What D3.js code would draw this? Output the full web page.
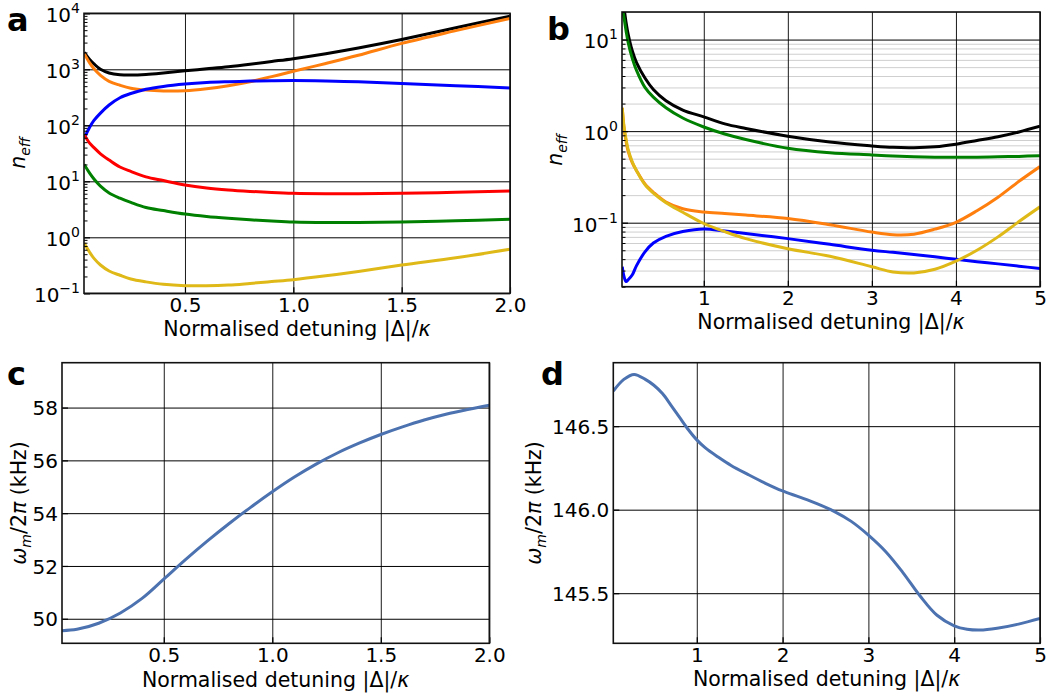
<!DOCTYPE html>
<html>
<head>
<meta charset="utf-8">
<script src="https://cdn.jsdelivr.net/npm/d3@7"></script>
<style>
  body { margin: 0; background: #fff; }
  svg { display: block; }
  text { font-family: "DejaVu Sans", sans-serif; fill: #000; }
</style>
</head>
<body>
<svg id="fig" width="1059" height="697"></svg>
<script>
// ---- panel a: effective occupation vs detuning (0..2) ----
const detA = [0.035, 0.06, 0.08, 0.11, 0.15, 0.2, 0.25, 0.32, 0.4, 0.5, 0.6, 0.7, 0.8, 0.9, 1.0, 1.15, 1.3, 1.5, 1.75, 2.0];
const aBlack  = [2000, 1500, 1250, 1000, 860, 800, 790, 810, 860, 940, 1020, 1110, 1230, 1380, 1550, 1900, 2400, 3400, 5500, 8900];
const aOrange = [1900, 1300, 1020, 780, 610, 520, 460, 425, 410, 415, 450, 510, 600, 740, 920, 1270, 1780, 2900, 4900, 8100];
const aBlue   = [58, 92, 122, 165, 230, 310, 370, 440, 495, 545, 580, 600, 615, 625, 630, 620, 600, 555, 510, 465];
const aRed    = [68, 48, 40, 31, 24, 18, 15, 12, 10.3, 8.6, 7.6, 7.0, 6.6, 6.3, 6.1, 6.0, 6.0, 6.1, 6.35, 6.7];
const aGreen  = [20, 14, 11, 8.2, 6.2, 5.0, 4.2, 3.4, 3.0, 2.6, 2.35, 2.18, 2.05, 1.95, 1.87, 1.83, 1.84, 1.87, 1.97, 2.1];
const aGold   = [0.78, 0.54, 0.42, 0.32, 0.25, 0.21, 0.18, 0.16, 0.145, 0.137, 0.136, 0.14, 0.15, 0.162, 0.175, 0.205, 0.245, 0.32, 0.43, 0.61];

// ---- panel b: effective occupation vs detuning (0..5) ----
const detB = [0.03, 0.05, 0.075, 0.1, 0.15, 0.2, 0.3, 0.4, 0.55, 0.75, 1.0, 1.25, 1.5, 2.0, 2.5, 3.0, 3.25, 3.5, 3.75, 4.0, 4.25, 4.5, 4.75, 5.0];
const bBlack  = [26, 22, 15.5, 11.5, 7.5, 5.6, 3.8, 2.85, 2.15, 1.7, 1.43, 1.2, 1.07, 0.88, 0.76, 0.69, 0.665, 0.66, 0.675, 0.72, 0.79, 0.87, 0.98, 1.13];
const bGreen  = [22, 17.5, 12.5, 9.3, 6.2, 4.6, 3.0, 2.35, 1.8, 1.39, 1.11, 0.93, 0.81, 0.65, 0.58, 0.55, 0.535, 0.525, 0.52, 0.52, 0.52, 0.525, 0.53, 0.54];
const bOrange = [1.8, 1.1, 0.78, 0.6, 0.45, 0.37, 0.265, 0.215, 0.168, 0.142, 0.131, 0.126, 0.121, 0.111, 0.095, 0.079, 0.074, 0.075, 0.085, 0.101, 0.135, 0.19, 0.283, 0.41];
const bGold   = [1.8, 1.15, 0.82, 0.63, 0.46, 0.37, 0.26, 0.21, 0.165, 0.13, 0.098, 0.08, 0.067, 0.052, 0.043, 0.033, 0.029, 0.0283, 0.031, 0.038, 0.05, 0.07, 0.103, 0.149];
const bBlue   = [0.033, 0.026, 0.0228, 0.0238, 0.027, 0.034, 0.048, 0.06, 0.071, 0.08, 0.0855, 0.081, 0.076, 0.067, 0.058, 0.05, 0.0475, 0.045, 0.0425, 0.0398, 0.0375, 0.0355, 0.0335, 0.0316];

// ---- panel c / d: mechanical frequency (kHz) ----
const detC  = [0.031, 0.1, 0.2, 0.3, 0.4, 0.5, 0.6, 0.7, 0.8, 0.9, 1.0, 1.1, 1.2, 1.3, 1.4, 1.5, 1.6, 1.7, 1.8, 1.9, 2.0];
const cFreq = [49.55, 49.6, 49.83, 50.22, 50.77, 51.5, 52.24, 52.94, 53.6, 54.22, 54.81, 55.36, 55.85, 56.28, 56.65, 56.98, 57.27, 57.53, 57.75, 57.93, 58.09];
const detD  = [0.027, 0.15, 0.27, 0.4, 0.5, 0.6, 0.7, 0.8, 0.9, 1.0, 1.1, 1.25, 1.4, 1.6, 1.8, 2.0, 2.2, 2.4, 2.6, 2.8, 3.0, 3.2, 3.4, 3.6, 3.8, 4.0, 4.15, 4.3, 4.5, 4.75, 5.0];
const dFreq = [146.71, 146.78, 146.81, 146.78, 146.745, 146.695, 146.625, 146.552, 146.48, 146.418, 146.37, 146.315, 146.265, 146.21, 146.158, 146.112, 146.075, 146.036, 145.99, 145.93, 145.848, 145.75, 145.625, 145.485, 145.368, 145.305, 145.284, 145.279, 145.29, 145.315, 145.349];

// ---- tick values ----
const ticksA_x = [0.5, 1.0, 1.5, 2.0];
const ticksA_y = [0.1, 1, 10, 100, 1000, 10000];
const ticksB_x = [1, 2, 3, 4, 5];
const ticksB_y = [0.1, 1, 10];
const ticksC_x = [0.5, 1.0, 1.5, 2.0];
const ticksC_y = [50, 52, 54, 56, 58];
const ticksD_x = [1, 2, 3, 4, 5];
const ticksD_y = [145.5, 146.0, 146.5];

const C = {
  black: "#000000", orange: "#ff7f0e", blue: "#0000ff",
  red: "#ff0000", green: "#008000", gold: "#dfb918", steel: "#4c72b0"
};

const svg = d3.select("#fig");
svg.append("rect").attr("width", 1059).attr("height", 697).attr("fill", "#fff");
const defs = svg.append("defs");

const TICK_FS = 20, LABEL_FS = 20.5;

function minorLogTicks(lo, hi) {
  const out = [];
  for (let e = Math.floor(Math.log10(lo)); e <= Math.ceil(Math.log10(hi)); e++) {
    for (let m = 2; m <= 9; m++) {
      const v = m * Math.pow(10, e);
      if (v >= lo * 0.999 && v <= hi * 1.001) out.push(v);
    }
  }
  return out;
}

function powerLabel(textSel, v) {
  const e = Math.round(Math.log10(v));
  textSel.text(null);
  textSel.append("tspan").text("10");
  textSel.append("tspan").attr("font-size", 14).attr("dy", -9)
    .text(e < 0 ? "\u2212" + (-e) : String(e));
}

function panel(o) {
  const g = svg.append("g");
  const x = d3.scaleLinear().domain(o.xDomain).range([o.left, o.right]);
  const y = (o.log ? d3.scaleLog() : d3.scaleLinear()).domain(o.yDomain).range([o.bottom, o.top]);
  const w = o.right - o.left, h = o.bottom - o.top;

  defs.append("clipPath").attr("id", "clip-" + o.name)
    .append("rect").attr("x", o.left).attr("y", o.top).attr("width", w).attr("height", h);

  // minor horizontal grid
  if (o.minorGrid) {
    g.append("g").call(d3.axisLeft(y).tickValues(o.minor).tickSize(-w).tickFormat(""))
      .attr("transform", `translate(${o.left},0)`)
      .call(s => s.select(".domain").remove())
      .call(s => s.selectAll("line").attr("stroke", "#cfcfcf").attr("stroke-width", 1));
  }
  // major grid
  g.append("g").attr("transform", `translate(0,${o.bottom})`)
    .call(d3.axisBottom(x).tickValues(o.xTicks).tickSize(-h).tickFormat(""))
    .call(s => s.select(".domain").remove())
    .call(s => s.selectAll("line").attr("stroke", "#1a1a1a").attr("stroke-width", 1));
  g.append("g").attr("transform", `translate(${o.left},0)`)
    .call(d3.axisLeft(y).tickValues(o.yTicks).tickSize(-w).tickFormat(""))
    .call(s => s.select(".domain").remove())
    .call(s => s.selectAll("line").attr("stroke", "#000").attr("stroke-width", 1));

  // data curves
  const lines = g.append("g").attr("clip-path", `url(#clip-${o.name})`);
  o.series.forEach(sr => {
    const line = d3.line()
      .x((d, i) => x(sr.x[i]))
      .y(d => y(d))
      .curve(d3.curveCatmullRom.alpha(0.5));
    lines.append("path").attr("d", line(sr.y))
      .attr("fill", "none").attr("stroke", sr.color)
      .attr("stroke-width", 3).attr("stroke-linejoin", "round").attr("stroke-linecap", "butt");
  });

  // inward ticks + labels
  const xa = g.append("g").attr("transform", `translate(0,${o.bottom})`)
    .call(d3.axisBottom(x).tickValues(o.xTicks).tickSize(-6).tickPadding(o.xPad).tickFormat(o.xFmt));
  xa.select(".domain").remove();
  xa.selectAll("line").attr("stroke", "#000").attr("stroke-width", 1.2);
  xa.selectAll("text").attr("font-size", TICK_FS).attr("font-family", "DejaVu Sans").attr("fill", "#000");

  const ya = g.append("g").attr("transform", `translate(${o.left},0)`)
    .call(d3.axisLeft(y).tickValues(o.yTicks).tickSize(-6).tickPadding(4)
      .tickFormat(o.log ? () => "" : o.yFmt));
  ya.select(".domain").remove();
  ya.selectAll("line").attr("stroke", "#000").attr("stroke-width", 1.2);
  ya.selectAll("text").attr("font-size", TICK_FS).attr("font-family", "DejaVu Sans")
    .attr("fill", "#000").attr("dy", o.log ? "0.42em" : "0.36em");
  if (o.log) ya.selectAll("text").each(function (v) { powerLabel(d3.select(this), v); });

  if (o.log) {
    const ym = g.append("g").attr("transform", `translate(${o.left},0)`)
      .call(d3.axisLeft(y).tickValues(o.minor).tickSize(-3.5).tickFormat(""));
    ym.select(".domain").remove();
    ym.selectAll("line").attr("stroke", "#000").attr("stroke-width", 1);
  }

  // frame
  g.append("rect").attr("x", o.left).attr("y", o.top).attr("width", w).attr("height", h)
    .attr("fill", "none").attr("stroke", "#111").attr("stroke-width", 1.6);

  // axis titles
  const xl = g.append("text").attr("x", (o.left + o.right) / 2).attr("y", o.xLabelY)
    .attr("text-anchor", "middle").attr("font-size", LABEL_FS);
  xl.append("tspan").text("Normalised detuning |\u0394|/");
  xl.append("tspan").attr("font-style", "italic").text("\u03ba");

  const yl = g.append("text")
    .attr("transform", `translate(${o.yLabelX},${o.yLabelY}) rotate(-90)`)
    .attr("text-anchor", "middle").attr("font-size", LABEL_FS);
  o.yLabel(yl);

  // panel letter
  g.append("text").attr("x", o.letterX).attr("y", o.letterY)
    .attr("font-size", 32).attr("font-weight", "bold").text(o.name);
}

const neffLabel = t => {
  t.append("tspan").attr("font-style", "italic").text("n");
  t.append("tspan").attr("font-style", "italic").attr("font-size", 14).attr("dy", 5).text("eff");
};
const omegaLabel = t => {
  t.append("tspan").attr("font-style", "italic").text("\u03c9");
  t.append("tspan").attr("font-style", "italic").attr("font-size", 14).attr("dy", 5).text("m");
  t.append("tspan").attr("dy", -5).text("/2");
  t.append("tspan").attr("font-style", "italic").text("\u03c0");
  t.append("tspan").text(" (kHz)");
};

panel({
  name: "a", left: 84, right: 510, top: 13.3, bottom: 293.3,
  xDomain: [0.034, 2], yDomain: [0.1, 10000], log: true,
  xTicks: ticksA_x, yTicks: ticksA_y, minor: minorLogTicks(0.1, 10000),
  xFmt: d3.format(".1f"), xPad: 5,
  series: [
    { x: detA, y: aBlack, color: C.black },
    { x: detA, y: aOrange, color: C.orange },
    { x: detA, y: aBlue, color: C.blue },
    { x: detA, y: aRed, color: C.red },
    { x: detA, y: aGreen, color: C.green },
    { x: detA, y: aGold, color: C.gold }
  ],
  xLabelY: 336, yLabelX: 25, yLabelY: 153, yLabel: neffLabel,
  letterX: 7, letterY: 31
});

panel({
  name: "b", left: 622, right: 1040, top: 12, bottom: 286.7,
  xDomain: [0.027, 5], yDomain: [0.02, 20], log: true,
  xTicks: ticksB_x, yTicks: ticksB_y, minor: minorLogTicks(0.02, 20), minorGrid: true,
  xFmt: d3.format("d"), xPad: 4,
  series: [
    { x: detB, y: bBlack, color: C.black },
    { x: detB, y: bGreen, color: C.green },
    { x: detB, y: bBlue, color: C.blue },
    { x: detB, y: bOrange, color: C.orange },
    { x: detB, y: bGold, color: C.gold }
  ],
  xLabelY: 328.5, yLabelX: 562, yLabelY: 150, yLabel: neffLabel,
  letterX: 547, letterY: 40
});

panel({
  name: "c", left: 62, right: 489.3, top: 362.7, bottom: 643.3,
  xDomain: [0.031, 2], yDomain: [49.07, 59.7], log: false,
  xTicks: ticksC_x, yTicks: ticksC_y,
  xFmt: d3.format(".1f"), yFmt: d3.format("d"), xPad: 5,
  series: [{ x: detC, y: cFreq, color: C.steel }],
  xLabelY: 686.5, yLabelX: 26, yLabelY: 503, yLabel: omegaLabel,
  letterX: 7, letterY: 385
});

panel({
  name: "d", left: 613.3, right: 1040, top: 362.7, bottom: 643.3,
  xDomain: [0.027, 5], yDomain: [145.2, 146.88], log: false,
  xTicks: ticksD_x, yTicks: ticksD_y,
  xFmt: d3.format("d"), yFmt: d3.format(".1f"), xPad: 4,
  series: [{ x: detD, y: dFreq, color: C.steel }],
  xLabelY: 686, yLabelX: 541, yLabelY: 503, yLabel: omegaLabel,
  letterX: 541, letterY: 385
});
</script>
</body>
</html>
